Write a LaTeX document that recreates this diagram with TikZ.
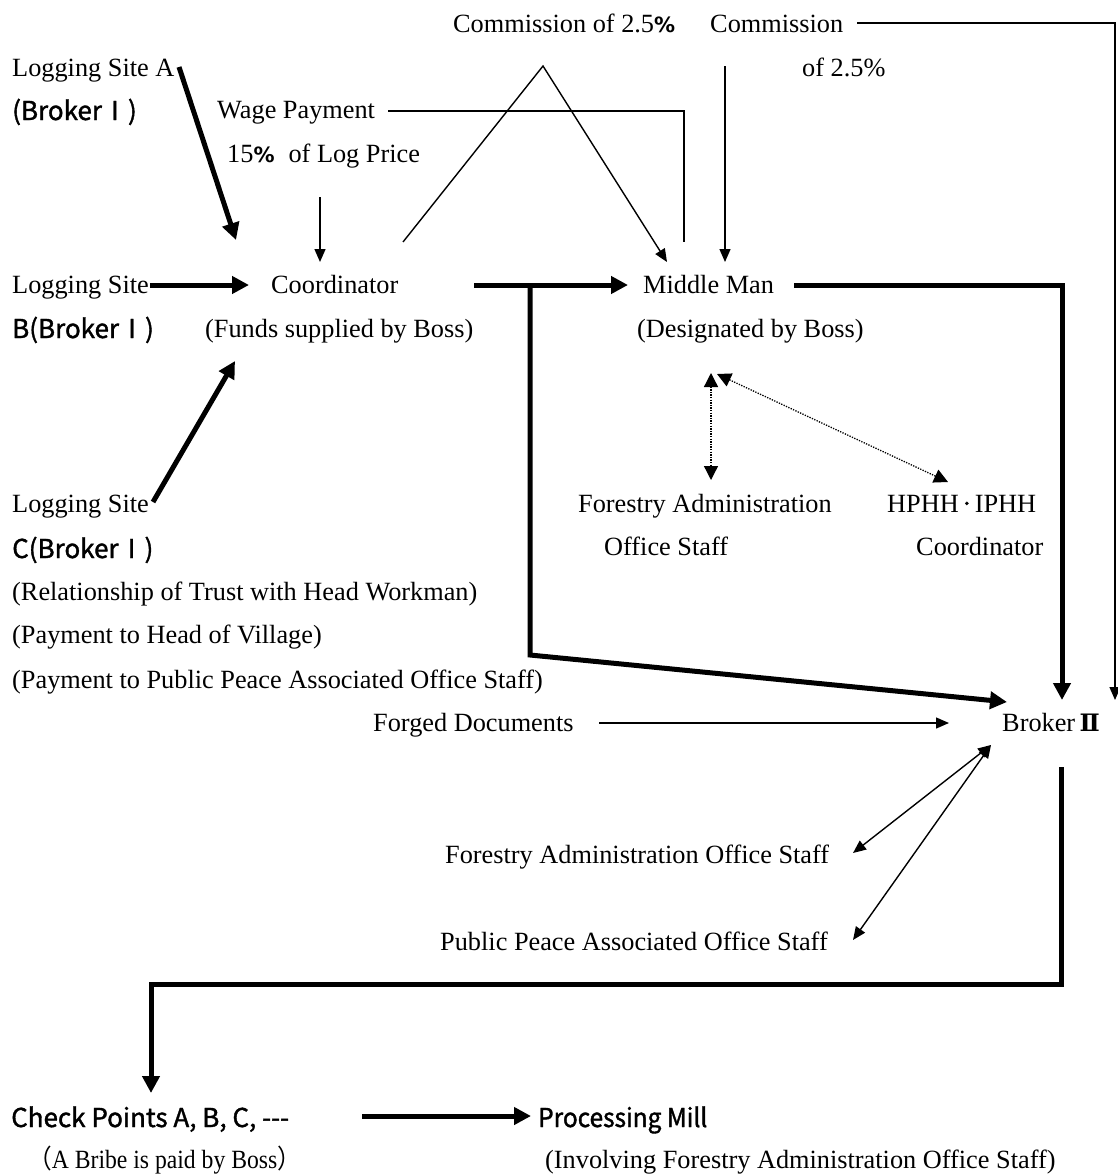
\documentclass[tikz,border=0pt]{standalone}
\usepackage{fontspec}
\setmainfont{Liberation Serif}
\newfontfamily\cjk{Noto Sans CJK JP}
\newfontfamily\cjkb[FakeBold=1.4]{Noto Sans CJK JP}
\newfontfamily\dvsans{DejaVu Sans}
\newfontfamily\dvserif{DejaVu Serif}
\usetikzlibrary{arrows.meta}
\newcommand\fsz{\fontsize{26.3}{31}\selectfont}
\newcommand\sfz{\cjkb\fontsize{26}{31}\selectfont}
\newcommand\bpct{{\dvsans\bfseries\fontsize{21}{26}\selectfont\%}}
\begin{document}
\begin{tikzpicture}[x=1pt,y=-1pt,
  txt/.style={inner sep=0pt,anchor=base west,font=\fsz},
  stxt/.style={inner sep=0pt,anchor=base west,font=\sfz},
  bigarrow/.style={line width=5pt,line join=miter,-{Triangle[length=17pt,width=17pt]}},
  bigline/.style={line width=5pt,line join=miter},
  smallarrow/.style={line width=1.4pt,line join=miter,-{Triangle[length=13pt,width=11pt]}},
  smallline/.style={line width=1.4pt,line join=miter},
  dotarrow/.style={line width=1.3pt,dash pattern=on 1.3pt off 1.3pt,{Triangle[length=14pt,width=14pt]}-{Triangle[length=14pt,width=14pt]}},
  twoway/.style={line width=1.4pt,{Triangle[length=13pt,width=11pt]}-{Triangle[length=13pt,width=11pt]}}]
\useasboundingbox (0,0) rectangle (1118,1175);
\fill[white] (0,0) rectangle (1118,1175);

% ---- texts ----
\node[txt] (com1) at (453,32) {Commission of 2.5\bpct};
\node[txt] (com2) at (710,32) {Commission};
\node[txt] (com2b) at (802,76) {of 2.5\%};
\node[txt] (lsA) at (12,76) {Logging Site A};
\node[stxt] (brA) at (12,120) {(BrokerⅠ)};
\node[txt] (wage) at (217,118) {Wage Payment};
\node[txt] (pct) at (227,162) {15\bpct\hspace{14pt}of Log Price};
\node[txt] (lsB) at (12,293) {Logging Site};
\node[stxt] (brB) at (12,338) {B(BrokerⅠ)};
\node[txt] (coord) at (271,293) {Coordinator};
\node[txt] (funds) at (205,337) {(Funds supplied by Boss)};
\node[txt] (mid) at (643,293) {Middle Man};
\node[txt] (desig) at (637,337) {(Designated by Boss)};
\node[txt] (fao1) at (578,512) {Forestry Administration};
\node[txt] (fao1b) at (604,555) {Office Staff};
\node[txt] (hphh) at (887,512) {HPHH{\cjkb\fontsize{16}{16}\selectfont\raisebox{2.5pt}{・}}IPHH};
\node[txt] (hphhb) at (916,555) {Coordinator};
\node[txt] (lsC) at (12,512) {Logging Site};
\node[stxt] (brC) at (12,558) {C(BrokerⅠ)};
\node[txt] (rel) at (12,600) {(Relationship of Trust with Head Workman)};
\node[txt] (pay1) at (12,643) {(Payment to Head of Village)};
\node[txt] (pay2) at (12,688) {(Payment to Public Peace Associated Office Staff)};
\node[txt] (forged) at (373,731) {Forged Documents};
\node[txt] (br2) at (1002,731) {Broker\,{\dvserif\bfseries\fontsize{24}{28}\selectfont Ⅱ}};
\node[txt] (fao2) at (445,863) {Forestry Administration Office Staff};
\node[txt] (ppa) at (440,950) {Public Peace Associated Office Staff};
\node[stxt] (check) at (11,1127) {Check Points A, B, C, ---};
\node[stxt] (mill) at (538,1127) {\scalebox{0.94}[1]{Processing Mill}};
\node[txt] (bribe) at (28,1168) {\scalebox{0.9}[1]{{\cjk （}A Bribe is paid by Boss{\cjk ）}}};
\node[txt] (invol) at (545,1168) {(Involving Forestry Administration Office Staff)};

% ---- connector end points ----
\coordinate (aS) at (179,67);   \coordinate (aE) at (236,240);
\coordinate (bS) at (150,285);  \coordinate (bE) at (249,285);
\coordinate (cS) at (153,502);  \coordinate (cE) at (235,361);
\coordinate (wS) at (388,111);  \coordinate (wK) at (684,111); \coordinate (wE) at (684,242);
\coordinate (pS) at (320,197);  \coordinate (pE) at (320,262);
\coordinate (tS) at (403,242);  \coordinate (tA) at (543,66);  \coordinate (tE) at (667,262);
\coordinate (kS) at (725,66);   \coordinate (kE) at (725,262);
\coordinate (rS) at (857,23);   \coordinate (rK) at (1115,23); \coordinate (rE) at (1115,700);
\coordinate (mS) at (474,285);  \coordinate (mE) at (628,285);
\coordinate (jS) at (530,285);  \coordinate (jK) at (530,655); \coordinate (jE) at (1007,702);
\coordinate (nS) at (794,285);  \coordinate (nK) at (1062,285); \coordinate (nE) at (1062,700);
\coordinate (dT) at (711,373);  \coordinate (dB) at (711,480);
\coordinate (eT) at (717,374);  \coordinate (eB) at (948,482);
\coordinate (fS) at (599,723);  \coordinate (fE) at (949,723);
\coordinate (xT) at (991,745);  \coordinate (xF) at (853,853); \coordinate (xP) at (853,940);
\coordinate (zS) at (1061,767); \coordinate (zK) at (1061,984); \coordinate (zL) at (151,984); \coordinate (zE) at (151,1093);
\coordinate (qS) at (362,1116); \coordinate (qE) at (531,1116);

% ---- connectors ----
\draw[bigarrow] (aS) -- (aE);
\draw[bigarrow] (bS) -- (bE);
\draw[bigarrow] (cS) -- (cE);
\draw[smallline] (wS) -- (wK) -- (wE);
\draw[smallarrow] (pS) -- (pE);
\draw[smallarrow] (tS) -- (tA) -- (tE);
\draw[smallarrow] (kS) -- (kE);
\draw[smallarrow] (rS) -- (rK) -- (rE);
\draw[bigarrow] (mS) -- (mE);
\draw[bigarrow] (jS) -- (jK) -- (jE);
\draw[bigarrow] (nS) -- (nK) -- (nE);
\draw[dotarrow] (dT) -- (dB);
\draw[dotarrow] (eT) -- (eB);
\draw[smallarrow] (fS) -- (fE);
\draw[twoway] (xT) -- (xF);
\draw[twoway] (xT) -- (xP);
\draw[bigarrow] (zS) -- (zK) -- (zL) -- (zE);
\draw[bigarrow] (qS) -- (qE);
\end{tikzpicture}
\end{document}
